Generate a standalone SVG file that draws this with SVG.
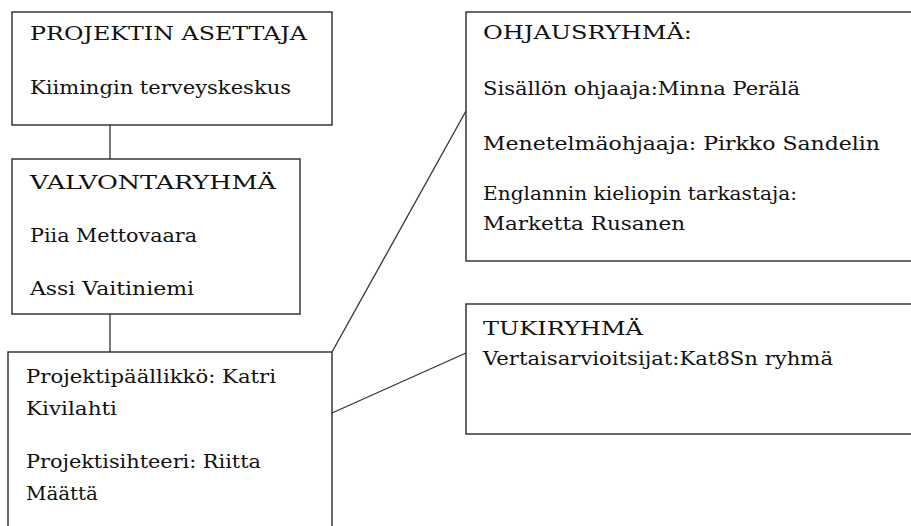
<svg xmlns="http://www.w3.org/2000/svg" width="911" height="526" viewBox="0 0 911 526">
<style>
.box{fill:#fff;stroke:#2a2a2a;stroke-width:1.4}
.conn line{stroke:#333;stroke-width:1.3}
text{font-family:"DejaVu Serif","Liberation Serif",serif;font-size:18.5px;fill:#111}
</style>
<rect width="911" height="526" fill="#fff"/>
<g id="connectors" class="conn">
<line x1="110" y1="125" x2="110" y2="159"/>
<line x1="110" y1="314" x2="110" y2="352"/>
<line x1="332" y1="352" x2="466" y2="111"/>
<line x1="332" y1="413" x2="466" y2="353"/>
</g>
<g id="projektin-asettaja">
<rect class="box" x="12" y="12" width="320" height="113"/>
<text x="30" y="40" textLength="277" lengthAdjust="spacingAndGlyphs">PROJEKTIN ASETTAJA</text>
<text x="30" y="94" textLength="261" lengthAdjust="spacingAndGlyphs">Kiimingin terveyskeskus</text>
</g>
<g id="valvontaryhma">
<rect class="box" x="12" y="159" width="288" height="155"/>
<text x="30" y="189" textLength="246" lengthAdjust="spacingAndGlyphs">VALVONTARYHMÄ</text>
<text x="30" y="242" textLength="167" lengthAdjust="spacingAndGlyphs">Piia Mettovaara</text>
<text x="30" y="295" textLength="164" lengthAdjust="spacingAndGlyphs">Assi Vaitiniemi</text>
</g>
<g id="projektipaallikko">
<rect class="box" x="8" y="352" width="324" height="190"/>
<text x="26" y="383" textLength="250" lengthAdjust="spacingAndGlyphs">Projektipäällikkö: Katri</text>
<text x="26" y="415" textLength="91" lengthAdjust="spacingAndGlyphs">Kivilahti</text>
<text x="26" y="468" textLength="235" lengthAdjust="spacingAndGlyphs">Projektisihteeri: Riitta</text>
<text x="26" y="500" textLength="72" lengthAdjust="spacingAndGlyphs">Määttä</text>
</g>
<g id="ohjausryhma">
<rect class="box" x="466" y="12" width="460" height="249"/>
<text x="483" y="39" textLength="209" lengthAdjust="spacingAndGlyphs">OHJAUSRYHMÄ:</text>
<text x="483" y="95" textLength="317" lengthAdjust="spacingAndGlyphs">Sisällön ohjaaja:Minna Perälä</text>
<text x="483" y="150" textLength="397" lengthAdjust="spacingAndGlyphs">Menetelmäohjaaja: Pirkko Sandelin</text>
<text x="483" y="200" textLength="314" lengthAdjust="spacingAndGlyphs">Englannin kieliopin tarkastaja:</text>
<text x="483" y="230" textLength="202" lengthAdjust="spacingAndGlyphs">Marketta Rusanen</text>
</g>
<g id="tukiryhma">
<rect class="box" x="466" y="304" width="460" height="130"/>
<text x="483" y="335" textLength="160" lengthAdjust="spacingAndGlyphs">TUKIRYHMÄ</text>
<text x="483" y="365" textLength="350" lengthAdjust="spacingAndGlyphs">Vertaisarvioitsijat:Kat8Sn ryhmä</text>
</g>
</svg>
